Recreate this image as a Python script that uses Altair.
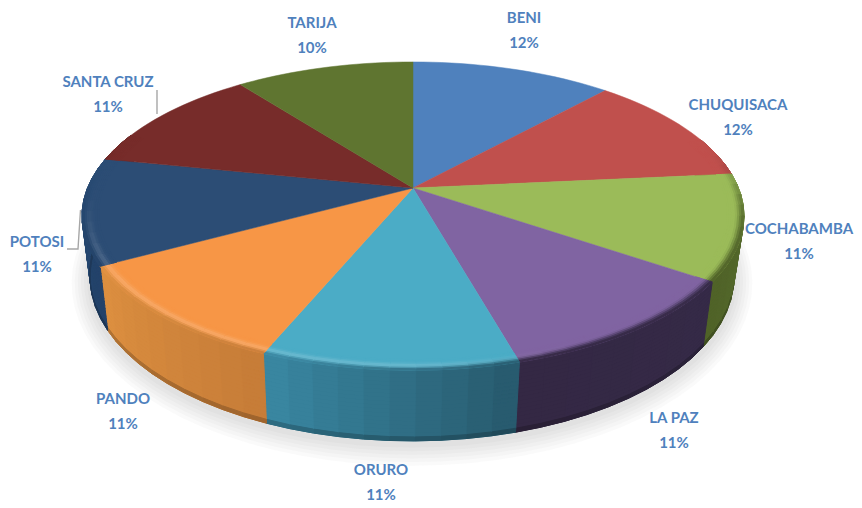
import math
import altair as alt
import pandas as pd

alt.data_transformers.disable_max_rows()

# ---- values ----
names = ["BENI", "CHUQUISACA", "COCHABAMBA", "LA PAZ", "ORURO", "PANDO", "POTOSI", "SANTA CRUZ", "TARIJA"]
values = [11.7, 11.8, 11.1, 11.1, 10.6, 10.8, 11.2, 11.4, 10.4]
face_colors = ["#4f81bd", "#c0504d", "#9bbb59", "#8064a2", "#4bacc6", "#f79646", "#2c4d75", "#772c2a", "#5f7530"]
side_from = ["#2c4d75", "#7a3230", "#5a7030", "#352a47", "#27596c", "#c67c38", "#234269", "#4a1c1b", "#3c4a1e"]
side_to = ["#2c4d75", "#7a3230", "#4f6228", "#342844", "#3a88a3", "#dd9040", "#264a73", "#4a1c1b", "#3c4a1e"]

# ---- layout ----
label_at = {
    "BENI": (524, 18), "CHUQUISACA": (738, 105), "COCHABAMBA": (799, 229), "LA PAZ": (674, 418),
    "ORURO": (381, 470), "PANDO": (123, 399), "POTOSI": (37, 242), "SANTA CRUZ": (108, 82), "TARIJA": (312, 23),
}
LINE_GAP = 24.5
K = 0.182
TOP = dict(cx=413.0, cy=188.0, R=325.5, S=149.0)
BOT = dict(cx=412.0, cy=247.0, R=316.6, S=158.6)
X0, X1, Y0, Y1 = 8, 854, 8, 503


def proj(deg, r, g):
    t = math.radians(deg)
    u, v = r * math.sin(t), r * math.cos(t)
    w = 1 + K * v
    return g["cx"] + g["R"] * u / w, g["cy"] - g["S"] * v / w


def lerp(a, b, t):
    return a + (b - a) * t


def rgb(h):
    return [int(h[i:i + 2], 16) for i in (1, 3, 5)]


def mix(c1, c2, t):
    t = max(0.0, min(1.0, t))
    a, b = rgb(c1), rgb(c2)
    return "#%02x%02x%02x" % tuple(round(lerp(a[i], b[i], t)) for i in range(3))


def smooth(x):
    x = max(0.0, min(1.0, x))
    return x * x * (3 - 2 * x)


total = sum(values)
edges = [0.0]
for val in values:
    edges.append(edges[-1] + val / total * 360)

rows_shadow, rows_base, rows_side, rows_face, rows_bevel = [], [], [], [], []


def add(rows, pid, pts, color):
    for i, (x, y) in enumerate(list(pts) + [pts[0]]):
        rows.append(dict(id=pid, i=i, x=round(x, 2), y=round(y, 2), c=color))


# soft shadow under the pie
for n, grow in enumerate([18, 15, 12, 9, 6, 3]):
    g = dict(cx=BOT["cx"], cy=BOT["cy"] + 3, R=BOT["R"] * (1 + grow / 316), S=BOT["S"] * (1 + grow / 160))
    add(rows_shadow, n, [proj(d, 1, g) for d in range(0, 360, 4)], "#808080")

STEP = 4
SIDE_BANDS = 18
BEVEL_BANDS = 8
BEVEL_R = 0.95


def bevel_weight(d):
    return smooth((d - 72) / 35) * smooth((288 - d) / 30)


def highlight(d):
    return smooth((d - 150) / 35) * smooth((272 - d) / 40)


pid = 0
for s, name in enumerate(names):
    a, b = edges[s], edges[s + 1]
    n = max(2, int(round((b - a) / 2)))
    arc = [lerp(a, b, i / n) for i in range(n + 1)]
    add(rows_face, s, [(TOP["cx"], TOP["cy"])] + [proj(d, 1, TOP) for d in arc], face_colors[s])

    def side_col(d):
        return mix(side_from[s], side_to[s], (d - a) / (b - a))

    # side wall, only the part that can be seen
    lo, hi = max(a, 70), min(b, 292)
    if hi > lo:
        n = max(1, int(round((hi - lo) / STEP)))
        ang = [lerp(lo, hi, i / n) for i in range(n + 1)]
        add(rows_base, s, [proj(d, 1, TOP) for d in ang] + [proj(d, 1, BOT) for d in reversed(ang)], side_col((lo + hi) / 2))
        for i in range(n):
            d0, d1 = ang[i], ang[i + 1]
            for j in range(SIDE_BANDS):
                h0, h1 = j / SIDE_BANDS, (j + 1) / SIDE_BANDS
                p00, p01 = proj(d0, 1, TOP), proj(d1, 1, TOP)
                q00, q01 = proj(d0, 1, BOT), proj(d1, 1, BOT)
                pts = [
                    (lerp(p00[0], q00[0], h0), lerp(p00[1], q00[1], h0)),
                    (lerp(p01[0], q01[0], h0), lerp(p01[1], q01[1], h0)),
                    (lerp(p01[0], q01[0], h1), lerp(p01[1], q01[1], h1)),
                    (lerp(p00[0], q00[0], h1), lerp(p00[1], q00[1], h1)),
                ]
                dm = (d0 + d1) / 2
                col = side_col(dm)
                if j == SIDE_BANDS - 1:
                    col = mix(col, "#000000", 0.2)
                add(rows_side, pid, pts, col)
                pid += 1
        # bevel between the face and the wall
        for i in range(n):
            d0, d1 = ang[i], ang[i + 1]
            dm = (d0 + d1) / 2
            wt = bevel_weight(dm)
            hl = highlight(dm)
            for j in range(BEVEL_BANDS):
                t0, t1 = j / BEVEL_BANDS, (j + 1) / BEVEL_BANDS
                r0 = lerp(BEVEL_R, 1, t0)
                r1 = lerp(BEVEL_R, 1, t1)
                pts = [proj(d0, r0, TOP), proj(d1, r0, TOP), proj(d1, r1, TOP), proj(d0, r1, TOP)]
                tm = (t0 + t1) / 2
                target = side_col(dm)
                base = mix(face_colors[s], target, smooth((tm - 0.45) / 0.55))
                if hl > 0:
                    bump = math.exp(-((tm - 0.62) / 0.2) ** 2) * hl
                    lit = mix(face_colors[s], "#ffffff", 0.17)
                    base = mix(base, lit, bump)
                col = mix(face_colors[s], base, wt)
                add(rows_bevel, pid, pts, col)
                pid += 1

X = alt.X("x:Q", axis=None, scale=alt.Scale(domain=[X0, X1], nice=False, zero=False))
Y = alt.Y("y:Q", axis=None, scale=alt.Scale(domain=[Y1, Y0], nice=False, zero=False))


def mesh(rows, width=1.0):
    return alt.Chart(pd.DataFrame(rows)).mark_line(strokeWidth=width, interpolate="linear").encode(
        x=X, y=Y, detail="id:N", order="i:Q",
        fill=alt.Fill("c:N", scale=None, legend=None),
        stroke=alt.Stroke("c:N", scale=None, legend=None),
    )


shadow = alt.Chart(pd.DataFrame(rows_shadow)).mark_line(
    fill="#707070", fillOpacity=0.035, stroke="#ffffff", strokeOpacity=0
).encode(x=X, y=Y, detail="id:N", order="i:Q")

leader_rows = [
    dict(id=0, i=0, x=157, y=90), dict(id=0, i=1, x=157, y=114),
    dict(id=1, i=0, x=67, y=249), dict(id=1, i=1, x=78, y=249), dict(id=1, i=2, x=80.5, y=210),
]
leaders = alt.Chart(pd.DataFrame(leader_rows)).mark_line(color="#a6a6a6", strokeWidth=1.4).encode(
    x=X, y=Y, detail="id:N", order="i:Q"
)

text_rows = []
for name, val in zip(names, values):
    lx, ly = label_at[name]
    text_rows.append(dict(x=lx, y=ly, t=name))
    text_rows.append(dict(x=lx, y=ly + LINE_GAP, t="%d%%" % round(val / total * 100)))
labels = alt.Chart(pd.DataFrame(text_rows)).mark_text(
    font="Lato", fontWeight="bold", fontSize=15, color="#4f81bd", align="center", baseline="middle"
).encode(x=X, y=Y, text="t:N")

chart = alt.layer(shadow, mesh(rows_base), mesh(rows_side), mesh(rows_face, 0.5), mesh(rows_bevel), leaders, labels).properties(
    width=X1 - X0, height=Y1 - Y0, padding=0, background="#ffffff",
    autosize=alt.AutoSizeParams(type="none"),
).configure_view(stroke=None)

chart.save("out.html", embed_options={"renderer": "svg", "actions": False})
